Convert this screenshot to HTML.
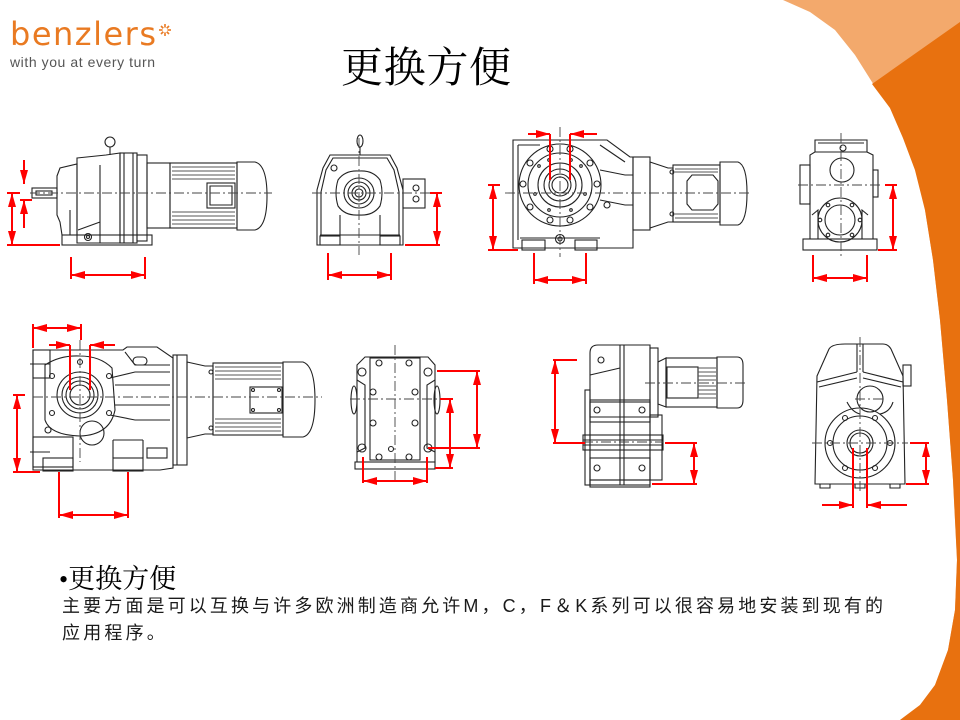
<!DOCTYPE html>
<html><head><meta charset="utf-8"><style>
html,body{margin:0;padding:0;background:#fff;}
svg{display:block;}
.k{fill:none;stroke:#222;stroke-width:1.1;}
.c{fill:none;stroke:#444;stroke-width:0.9;stroke-dasharray:10 3 2 3;}
.r{fill:none;stroke:#f00;stroke-width:2;}
.f{stroke:#555;stroke-width:0.9;}
</style></head><body>
<svg width="960" height="720" viewBox="0 0 960 720" xmlns="http://www.w3.org/2000/svg">
<defs>
<marker id="a" viewBox="0 0 14 8" refX="14" refY="4" markerWidth="14" markerHeight="8" markerUnits="userSpaceOnUse" orient="auto-start-reverse"><path d="M0,0 L14,4 L0,8 Z" fill="#f00"/></marker>
</defs>
<!-- background orange shapes -->
<path d="M783,0 L960,0 L960,720 L900,720 L920,705 L935,685 L948,650 L955,610 L957,560 L953,480 L947,400 L940,320 L933,260 L925,210 L915,170 L903,138 L890,108 L872,82 L855,55 L835,30 L810,12 Z" fill="#f3a96c"/>
<path d="M960,22 L872,84 L890,108 L903,138 L915,170 L925,210 L933,260 L940,320 L947,400 L953,480 L957,560 L955,610 L948,650 L935,685 L920,705 L900,720 L960,720 Z" fill="#e8710f"/>

<!-- logo -->
<text x="10" y="45" font-family="DejaVu Sans, sans-serif" font-size="32" fill="#e97a22" textLength="146" lengthAdjust="spacing">benzlers</text>
<g stroke="#e97a22" stroke-width="1.6">
<line x1="165" y1="24" x2="165" y2="36"/><line x1="159" y1="30" x2="171" y2="30"/>
<line x1="161" y1="26" x2="169" y2="34"/><line x1="169" y1="26" x2="161" y2="34"/>
</g>
<circle cx="165" cy="30" r="2.5" fill="#fff"/>
<text x="10" y="67" font-family="Liberation Sans, sans-serif" font-size="14" fill="#555" textLength="145" lengthAdjust="spacing">with you at every turn</text>

<!-- title -->
<text x="341" y="82" font-family="Liberation Serif, 'Noto Serif CJK SC', serif" font-size="42" fill="#000" textLength="170" lengthAdjust="spacing">更换方便</text>

<!-- ============ D1 ============ -->
<g class="k">
<circle cx="110" cy="142" r="5"/>
<line x1="110" y1="147" x2="110" y2="155"/>
<rect x="32" y="188" width="25" height="10"/>
<rect x="36" y="191" width="16" height="4"/>
<path d="M57,176 L60,168 L77,164 L77,235 L62,235 L60,222 L57,215 Z"/>
<path d="M77,158 L106,155 L120,153 L120,243 L77,243 Z"/>
<path d="M100,165 L100,243 M78,230 L100,222 M70,210 L70,235"/>
<rect x="120" y="153" width="17" height="90"/>
<line x1="124" y1="153" x2="124" y2="243"/>
<line x1="133" y1="153" x2="133" y2="243"/>
<rect x="137" y="155" width="10" height="86"/>
<rect x="147" y="163" width="23" height="65"/>
<rect x="170" y="163" width="67" height="65"/>
<rect x="207" y="183" width="28" height="25"/>
<path d="M210,186 L232,186 L232,205 L210,205 Z"/>
<path d="M237,162 L255,162 Q267,165 267,196 Q267,227 255,230 L237,230 Z"/>
<rect x="62" y="235" width="90" height="10"/>
<circle cx="88" cy="237" r="3.5"/>
<circle cx="88" cy="237" r="1.5"/>
</g>
<g class="f">
<line x1="172" y1="167" x2="235" y2="167"/><line x1="172" y1="171" x2="235" y2="171"/><line x1="172" y1="175" x2="235" y2="175"/><line x1="172" y1="179" x2="235" y2="179"/>
<line x1="172" y1="212" x2="235" y2="212"/><line x1="172" y1="216" x2="235" y2="216"/><line x1="172" y1="220" x2="235" y2="220"/><line x1="172" y1="224" x2="235" y2="224"/>
</g>
<line class="c" x1="30" y1="193" x2="272" y2="193"/>

<!-- ============ D2 ============ -->
<g class="k">
<ellipse cx="360" cy="141" rx="3" ry="6"/>
<line x1="360" y1="147" x2="360" y2="155"/>
<path d="M330,155 L390,155 L397,168 L403,190 L403,245 L317,245 L317,190 L323,168 Z"/>
<path d="M333,158 L387,158 L394,170 L399,192 L399,235 L321,235 L321,192 L326,170 Z"/>
<path d="M338,180 Q345,170 359,171 Q373,170 380,180 Q384,193 380,206 Q373,216 359,215 Q345,216 338,206 Q334,193 338,180 Z"/>
<circle cx="359" cy="193" r="15"/>
<circle cx="359" cy="193" r="11"/>
<circle cx="359" cy="193" r="7"/>
<circle cx="359" cy="193" r="4"/>
<circle cx="334" cy="168" r="3"/>
<path d="M340,215 L340,235 M380,215 L380,235 M320,235 L400,235"/>
<rect x="320" y="236" width="20" height="9"/>
<rect x="380" y="236" width="20" height="9"/>
<rect x="403" y="179" width="22" height="29"/>
<circle cx="416" cy="188" r="3"/>
<circle cx="416" cy="199" r="3"/>
</g>
<line class="c" x1="312" y1="193" x2="432" y2="193"/>
<line class="c" x1="359" y1="138" x2="359" y2="255"/>

<!-- ============ D3 ============ -->
<g class="k">
<path d="M513,140 L607,140 L630,157 L633,157 L633,248 L513,248 Z"/>
<path d="M518,145 L540,145 M600,145 L625,162 M518,145 L518,240"/>
<circle cx="560" cy="185" r="41"/>
<circle cx="560" cy="185" r="32"/>
<circle cx="560" cy="185" r="22"/>
<circle cx="560" cy="185" r="16"/>
<circle cx="560" cy="185" r="11"/>
<circle cx="560" cy="185" r="8"/>
<circle cx="550" cy="149" r="3"/><circle cx="570" cy="149" r="3"/>
<circle cx="530" cy="163" r="3"/><circle cx="590" cy="163" r="3"/>
<circle cx="523" cy="184" r="3"/><circle cx="597" cy="184" r="3"/>
<circle cx="530" cy="207" r="3"/><circle cx="590" cy="207" r="3"/>
<circle cx="550" cy="220" r="3"/><circle cx="570" cy="220" r="3"/>
<circle cx="539" cy="166" r="1.3"/><circle cx="581" cy="166" r="1.3"/>
<circle cx="535" cy="194" r="1.3"/><circle cx="585" cy="194" r="1.3"/>
<circle cx="549" cy="210" r="1.3"/><circle cx="571" cy="210" r="1.3"/>
<circle cx="549" cy="160" r="1.3"/><circle cx="571" cy="160" r="1.3"/>
<path d="M600,170 L625,175 L633,175 M600,200 L625,205 L633,205"/>
<circle cx="607" cy="205" r="3"/>
<path d="M520,238 L600,238"/>
<rect x="522" y="240" width="23" height="10"/>
<rect x="575" y="240" width="22" height="10"/>
<circle cx="560" cy="239" r="4.5"/><circle cx="560" cy="239" r="2"/>
<rect x="633" y="157" width="17" height="73"/>
<path d="M650,162 L668,168 L673,168 L673,222 L668,222 L650,228 Z"/>
<rect x="673" y="165" width="47" height="57"/>
<path d="M692,175 L713,175 L718,181 L718,204 L713,210 L692,210 L687,204 L687,181 Z"/>
<path d="M720,162 L738,162 Q747,165 747,193 Q747,222 738,225 L720,225 Z"/>
<circle cx="672" cy="172" r="2"/><circle cx="672" cy="214" r="2"/>
</g>
<g class="f">
<line x1="675" y1="169" x2="718" y2="169"/><line x1="675" y1="172" x2="718" y2="172"/>
<line x1="675" y1="214" x2="718" y2="214"/><line x1="675" y1="218" x2="718" y2="218"/>
</g>
<line class="c" x1="505" y1="193" x2="752" y2="193"/>
<line class="c" x1="560" y1="127" x2="560" y2="257"/>

<!-- ============ D4 ============ -->
<g class="k">
<path d="M815,140 L867,140 L867,152 L873,155 L873,239 L810,239 L810,155 L815,152 Z"/>
<path d="M818,143 L864,143 M815,152 L867,152"/>
<rect x="803" y="239" width="74" height="11"/>
<rect x="800" y="165" width="10" height="39"/>
<rect x="873" y="170" width="5" height="27"/>
<circle cx="842" cy="170" r="12"/>
<circle cx="843" cy="148" r="3"/>
<circle cx="840" cy="220" r="22"/>
<circle cx="840" cy="220" r="15"/>
<circle cx="828" cy="205" r="1.8"/><circle cx="852" cy="205" r="1.8"/>
<circle cx="820" cy="220" r="1.8"/><circle cx="860" cy="220" r="1.8"/>
<circle cx="828" cy="235" r="1.8"/><circle cx="852" cy="235" r="1.8"/>
<path d="M812,215 L818,210 L818,239 M868,215 L862,210 L862,239"/>
</g>
<line class="c" x1="841" y1="133" x2="841" y2="257"/>
<line class="c" x1="798" y1="185" x2="882" y2="185"/>

<!-- ============ D5 ============ -->
<g class="k">
<path d="M33,350 L123,350 L127,347 L157,347 L173,358 L173,468 L160,470 L33,470 Z"/>
<rect x="33" y="350" width="17" height="28"/>
<rect x="33" y="437" width="40" height="30"/>
<path d="M45,365 Q60,355 80,356 Q100,356 112,368 L115,410 Q110,435 80,436 Q50,435 45,420 Z"/>
<circle cx="80" cy="395" r="23"/>
<circle cx="80" cy="395" r="18"/>
<circle cx="80" cy="395" r="14"/>
<circle cx="80" cy="395" r="10"/>
<circle cx="92" cy="433" r="12"/>
<circle cx="52" cy="376" r="2.5"/><circle cx="109" cy="376" r="2.5"/>
<circle cx="52" cy="413" r="2.5"/><circle cx="109" cy="413" r="2.5"/>
<circle cx="48" cy="430" r="3"/>
<circle cx="80" cy="362" r="2.5"/>
<path d="M110,378 L135,372 L170,372 M115,385 L170,385 M115,405 L170,405 M110,415 L135,420 L170,420 M125,352 L135,365 L170,365"/>
<rect x="133" y="357" width="14" height="8" rx="4"/>
<rect x="43" y="458" width="30" height="13"/>
<rect x="113" y="458" width="30" height="13"/>
<path d="M113,440 L113,458 M143,440 L143,458 M113,440 L143,440"/>
<rect x="147" y="448" width="20" height="10"/>
<rect x="173" y="355" width="14" height="110"/>
<line x1="177" y1="355" x2="177" y2="465"/>
<path d="M187,362 L205,366 L213,366 L213,434 L205,434 L187,438 Z"/>
<rect x="213" y="363" width="70" height="72"/>
<rect x="250" y="387" width="32" height="26"/>
<circle cx="253" cy="390" r="1.5"/><circle cx="279" cy="390" r="1.5"/>
<circle cx="253" cy="410" r="1.5"/><circle cx="279" cy="410" r="1.5"/>
<path d="M283,362 L303,362 Q315,366 315,400 Q315,434 303,437 L283,437 Z"/>
<circle cx="211" cy="372" r="2"/><circle cx="211" cy="428" r="2"/>
</g>
<g class="f">
<line x1="215" y1="367" x2="281" y2="367"/><line x1="215" y1="371" x2="281" y2="371"/><line x1="215" y1="375" x2="281" y2="375"/><line x1="215" y1="379" x2="281" y2="379"/>
<line x1="215" y1="419" x2="281" y2="419"/><line x1="215" y1="423" x2="281" y2="423"/><line x1="215" y1="427" x2="281" y2="427"/><line x1="215" y1="431" x2="281" y2="431"/>
</g>
<line class="c" x1="33" y1="397" x2="322" y2="397"/>
<line class="c" x1="80" y1="340" x2="80" y2="462"/>
<line class="k" x1="30" y1="364" x2="50" y2="364"/>
<line class="k" x1="30" y1="452" x2="50" y2="452"/>

<!-- ============ D6 ============ -->
<g class="k">
<path d="M357,365 L365,357 L428,357 L435,365 L435,462 L357,462 Z"/>
<rect x="355" y="462" width="80" height="7"/>
<rect x="370" y="358" width="50" height="102"/>
<path d="M357,380 L365,385 L365,448 L357,452 M435,380 L427,385 L427,448 L435,452"/>
<ellipse cx="354" cy="400" rx="3" ry="14"/>
<ellipse cx="437" cy="400" rx="3" ry="14"/>
<circle cx="362" cy="372" r="4"/><circle cx="428" cy="372" r="4"/>
<circle cx="362" cy="448" r="4"/><circle cx="428" cy="448" r="4"/>
<circle cx="379" cy="363" r="3"/><circle cx="409" cy="363" r="3"/>
<circle cx="373" cy="392" r="3"/><circle cx="415" cy="392" r="3"/>
<circle cx="373" cy="423" r="3"/><circle cx="415" cy="423" r="3"/>
<circle cx="379" cy="457" r="3"/><circle cx="409" cy="457" r="3"/>
<circle cx="391" cy="449" r="2.5"/>
</g>
<line class="c" x1="395" y1="345" x2="395" y2="482"/>
<line class="c" x1="350" y1="399" x2="440" y2="399"/>

<!-- ============ D7 ============ -->
<g class="k">
<path d="M598,345 L650,345 L650,417 L590,417 L590,353 Q590,345 598,345 Z"/>
<path d="M590,375 L620,368"/>
<line x1="620" y1="345" x2="620" y2="485"/>
<line x1="624" y1="345" x2="624" y2="485"/>
<rect x="585" y="390" width="5" height="95"/>
<rect x="590" y="400" width="60" height="85"/>
<rect x="650" y="415" width="12" height="65"/>
<rect x="590" y="402" width="60" height="20"/>
<rect x="583" y="435" width="80" height="15"/>
<line x1="583" y1="440" x2="663" y2="440"/>
<line x1="583" y1="445" x2="663" y2="445"/>
<rect x="590" y="458" width="60" height="22"/>
<rect x="590" y="480" width="60" height="7"/>
<circle cx="597" cy="410" r="3"/><circle cx="642" cy="410" r="3"/>
<circle cx="597" cy="468" r="3"/><circle cx="642" cy="468" r="3"/>
<circle cx="601" cy="360" r="3"/>
<rect x="650" y="348" width="8" height="69"/>
<path d="M658,362 L666,358 L666,407 L658,404 Z"/>
<rect x="666" y="358" width="51" height="49"/>
<rect x="667" y="367" width="31" height="31"/>
<path d="M717,357 L737,357 Q743,357 743,365 L743,400 Q743,408 737,408 L717,408 Z"/>
</g>
<g class="f">
<line x1="698" y1="368" x2="716" y2="368"/><line x1="698" y1="372" x2="716" y2="372"/><line x1="698" y1="376" x2="716" y2="376"/><line x1="698" y1="380" x2="716" y2="380"/>
<line x1="698" y1="386" x2="716" y2="386"/><line x1="698" y1="390" x2="716" y2="390"/><line x1="698" y1="394" x2="716" y2="394"/><line x1="698" y1="398" x2="716" y2="398"/>
</g>
<line class="c" x1="645" y1="383" x2="746" y2="383"/>
<line class="c" x1="583" y1="442" x2="663" y2="442"/>

<!-- ============ D8 ============ -->
<g class="k">
<path d="M845,344 L883,344 Q888,344 891,349 L903,376 L905,484 L815,484 L817,376 L829,349 Q832,344 845,344 Z"/>
<path d="M817,382 L857,372 M863,372 L903,382 M857,344 L857,372 M863,344 L863,372 M819,387 L857,378 M863,378 L901,387"/>
<rect x="903" y="365" width="8" height="21"/>
<circle cx="870" cy="399" r="13"/>
<path d="M847,402 Q852,412 860,414 M893,402 Q890,412 880,414"/>
<circle cx="860" cy="443" r="35"/>
<circle cx="860" cy="443" r="27"/>
<circle cx="860" cy="443" r="13"/>
<circle cx="860" cy="443" r="10"/>
<circle cx="845" cy="418" r="2.5"/><circle cx="875" cy="418" r="2.5"/>
<circle cx="830" cy="443" r="2.5"/><circle cx="890" cy="443" r="2.5"/>
<circle cx="845" cy="468" r="2.5"/><circle cx="875" cy="468" r="2.5"/>
<path d="M820,484 L820,488 L830,488 L830,484 M855,484 L855,488 L865,488 L865,484 M890,484 L890,488 L900,488 L900,484"/>
</g>
<line class="c" x1="860" y1="337" x2="860" y2="491"/>
<line class="c" x1="812" y1="443" x2="908" y2="443"/>
<line class="c" x1="855" y1="399" x2="885" y2="399"/>

<!-- ============ red dimensions ============ -->
<g class="r">
<!-- D1 -->
<line x1="12" y1="193" x2="12" y2="245" marker-start="url(#a)" marker-end="url(#a)"/>
<line x1="7" y1="193" x2="20" y2="193"/>
<line x1="7" y1="245" x2="60" y2="245"/>
<line x1="24" y1="160" x2="24" y2="184" marker-end="url(#a)"/>
<line x1="24" y1="228" x2="24" y2="200" marker-end="url(#a)"/>
<line x1="20" y1="200" x2="32" y2="200"/>
<line x1="71" y1="257" x2="71" y2="279"/>
<line x1="145" y1="257" x2="145" y2="279"/>
<line x1="71" y1="275" x2="145" y2="275" marker-start="url(#a)" marker-end="url(#a)"/>
<!-- D2 -->
<line x1="437" y1="193" x2="437" y2="245" marker-start="url(#a)" marker-end="url(#a)"/>
<line x1="430" y1="193" x2="442" y2="193"/>
<line x1="405" y1="245" x2="440" y2="245"/>
<line x1="328" y1="253" x2="328" y2="280"/>
<line x1="391" y1="253" x2="391" y2="280"/>
<line x1="328" y1="275" x2="391" y2="275" marker-start="url(#a)" marker-end="url(#a)"/>
<!-- D3 -->
<line x1="528" y1="134" x2="550" y2="134" marker-end="url(#a)"/>
<line x1="550" y1="134" x2="550" y2="180"/>
<line x1="597" y1="134" x2="570" y2="134" marker-end="url(#a)"/>
<line x1="570" y1="134" x2="570" y2="180"/>
<line x1="493" y1="185" x2="493" y2="250" marker-start="url(#a)" marker-end="url(#a)"/>
<line x1="488" y1="185" x2="500" y2="185"/>
<line x1="488" y1="250" x2="518" y2="250"/>
<line x1="534" y1="253" x2="534" y2="284"/>
<line x1="586" y1="253" x2="586" y2="284"/>
<line x1="534" y1="280" x2="586" y2="280" marker-start="url(#a)" marker-end="url(#a)"/>
<!-- D4 -->
<line x1="893" y1="185" x2="893" y2="250" marker-start="url(#a)" marker-end="url(#a)"/>
<line x1="885" y1="185" x2="897" y2="185"/>
<line x1="878" y1="250" x2="897" y2="250"/>
<line x1="813" y1="255" x2="813" y2="282"/>
<line x1="867" y1="255" x2="867" y2="282"/>
<line x1="813" y1="278" x2="867" y2="278" marker-start="url(#a)" marker-end="url(#a)"/>
<!-- D5 -->
<line x1="33" y1="324" x2="33" y2="348"/>
<line x1="81" y1="324" x2="81" y2="340"/>
<line x1="33" y1="328" x2="81" y2="328" marker-start="url(#a)" marker-end="url(#a)"/>
<line x1="49" y1="345" x2="70" y2="345" marker-end="url(#a)"/>
<line x1="70" y1="345" x2="70" y2="390"/>
<line x1="115" y1="345" x2="90" y2="345" marker-end="url(#a)"/>
<line x1="90" y1="345" x2="90" y2="390"/>
<line x1="17" y1="395" x2="17" y2="472" marker-start="url(#a)" marker-end="url(#a)"/>
<line x1="13" y1="395" x2="25" y2="395"/>
<line x1="13" y1="472" x2="40" y2="472"/>
<line x1="59" y1="472" x2="59" y2="518"/>
<line x1="128" y1="472" x2="128" y2="518"/>
<line x1="59" y1="515" x2="128" y2="515" marker-start="url(#a)" marker-end="url(#a)"/>
<!-- D6 -->
<line x1="477" y1="371" x2="477" y2="448" marker-start="url(#a)" marker-end="url(#a)"/>
<line x1="437" y1="371" x2="480" y2="371"/>
<line x1="428" y1="448" x2="480" y2="448"/>
<line x1="450" y1="399" x2="450" y2="468" marker-start="url(#a)" marker-end="url(#a)"/>
<line x1="440" y1="399" x2="453" y2="399"/>
<line x1="435" y1="468" x2="453" y2="468"/>
<line x1="363" y1="457" x2="363" y2="483"/>
<line x1="427" y1="457" x2="427" y2="483"/>
<line x1="363" y1="481" x2="427" y2="481" marker-start="url(#a)" marker-end="url(#a)"/>
<!-- D7 -->
<line x1="555" y1="360" x2="555" y2="443" marker-start="url(#a)" marker-end="url(#a)"/>
<line x1="553" y1="360" x2="577" y2="360"/>
<line x1="553" y1="443" x2="585" y2="443"/>
<line x1="694" y1="443" x2="694" y2="484" marker-start="url(#a)" marker-end="url(#a)"/>
<line x1="665" y1="443" x2="697" y2="443"/>
<line x1="652" y1="484" x2="697" y2="484"/>
<!-- D8 -->
<line x1="926" y1="443" x2="926" y2="484" marker-start="url(#a)" marker-end="url(#a)"/>
<line x1="910" y1="443" x2="929" y2="443"/>
<line x1="906" y1="484" x2="929" y2="484"/>
<line x1="853" y1="448" x2="853" y2="508"/>
<line x1="867" y1="448" x2="867" y2="508"/>
<line x1="822" y1="505" x2="853" y2="505" marker-end="url(#a)"/>
<line x1="907" y1="505" x2="867" y2="505" marker-end="url(#a)"/>
</g>

<!-- bottom text -->
<text x="59" y="588" font-family="Liberation Serif, 'Noto Serif CJK SC', serif" font-size="26" fill="#000">•<tspan font-size="27">更换方便</tspan></text>
<text x="62" y="612" font-family="Liberation Sans, 'Noto Sans CJK SC', sans-serif" font-size="18" fill="#1a1a1a" textLength="821" lengthAdjust="spacing">主要方面是可以互换与许多欧洲制造商允许M，C，F＆K系列可以很容易地安装到现有的</text>
<text x="62" y="639" font-family="Liberation Sans, 'Noto Sans CJK SC', sans-serif" font-size="18" fill="#1a1a1a" letter-spacing="3.2">应用程序。</text>
</svg>
</body></html>
